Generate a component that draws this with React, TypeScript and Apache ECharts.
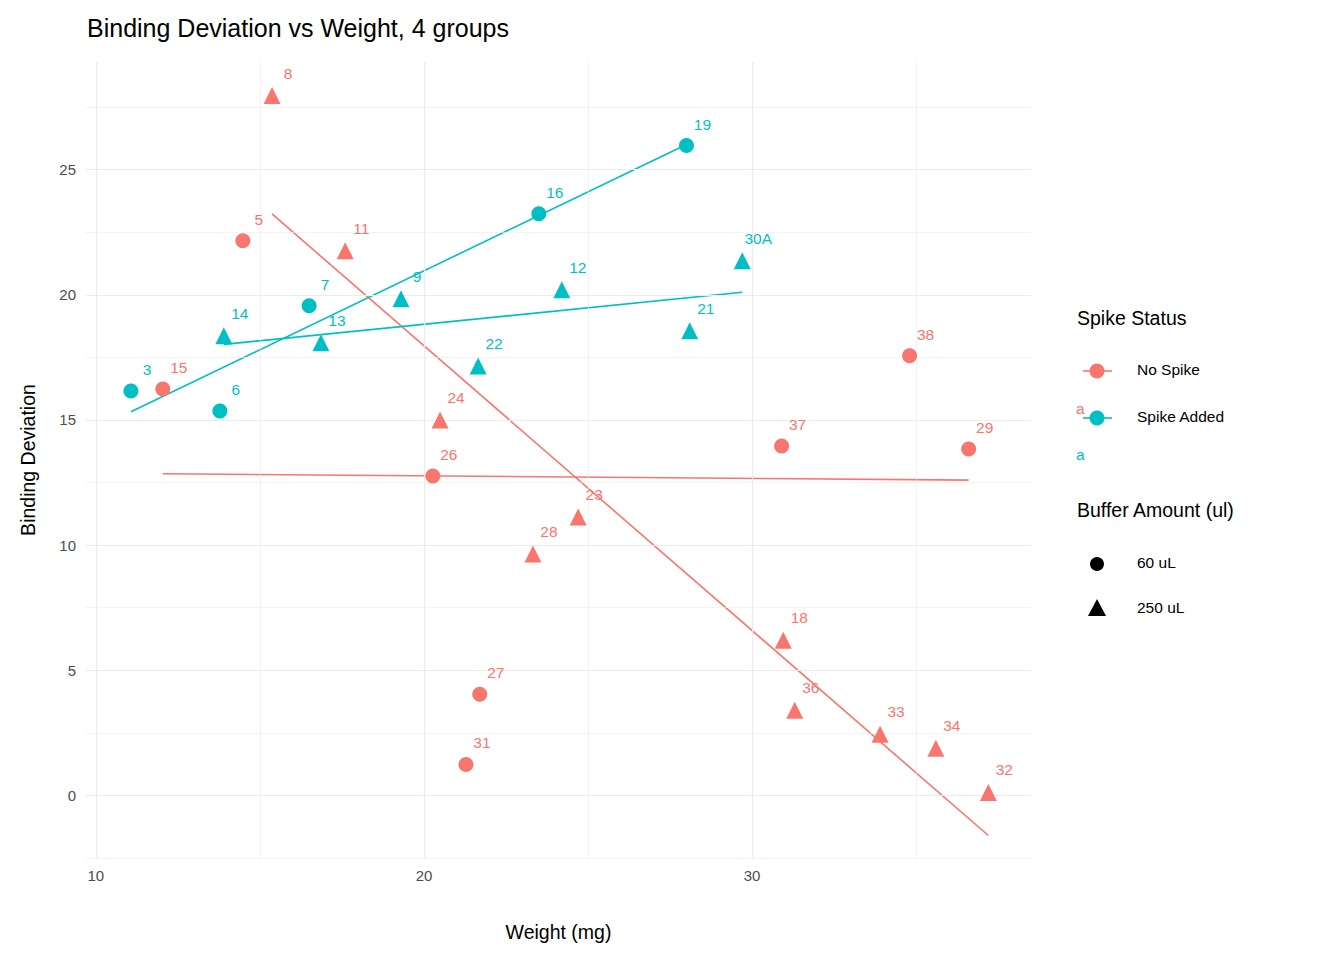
import React, { useEffect, useRef } from "react";
import * as echarts from "echarts";

const RED = "#F8766D";
const TEAL = "#00BFC4";

const noSpike60Names = ["15", "5", "26", "27", "31", "37", "38", "29"];
const noSpike60X = [12.04, 14.48, 20.27, 21.7, 21.28, 30.9, 34.8, 36.6];
const noSpike60Y = [16.24, 22.16, 12.76, 4.04, 1.24, 13.96, 17.56, 13.84];

const noSpike250Names = ["8", "11", "24", "28", "23", "18", "36", "33", "34", "32"];
const noSpike250X = [15.37, 17.6, 20.49, 23.32, 24.7, 30.95, 31.3, 33.9, 35.6, 37.2];
const noSpike250Y = [27.96, 21.76, 15.0, 9.64, 11.12, 6.2, 3.4, 2.44, 1.88, 0.12];

const spike60Names = ["3", "6", "7", "16", "19"];
const spike60X = [11.07, 13.78, 16.5, 23.5, 28.0];
const spike60Y = [16.16, 15.36, 19.56, 23.24, 25.96];

const spike250Names = ["14", "13", "9", "22", "12", "21", "30A"];
const spike250X = [13.9, 16.86, 19.3, 21.65, 24.2, 28.1, 29.7];
const spike250Y = [18.36, 18.08, 19.84, 17.16, 20.2, 18.56, 21.36];

const xTicks = [10, 20, 30];
const xMinor = [15, 25, 35];
const yTicks = [0, 5, 10, 15, 20, 25];
const yMinor = [-2.5, 2.5, 7.5, 12.5, 17.5, 22.5, 27.5];

function fit(xs: number[], ys: number[]) {
  const n = xs.length;
  const mx = xs.reduce((a, b) => a + b, 0) / n;
  const my = ys.reduce((a, b) => a + b, 0) / n;
  let sxy = 0, sxx = 0;
  for (let i = 0; i < n; i++) { sxy += (xs[i] - mx) * (ys[i] - my); sxx += (xs[i] - mx) ** 2; }
  const b = sxy / sxx, a = my - b * mx;
  const x0 = Math.min(...xs), x1 = Math.max(...xs);
  return [[x0, a + b * x0], [x1, a + b * x1]];
}

const FONT = "Liberation Sans, Arial, sans-serif";

function scatter(names: string[], xs: number[], ys: number[], color: string, symbol: string, size: number) {
  return {
    type: "scatter", symbol, symbolSize: size, silent: true,
    itemStyle: { color, opacity: 1 },
    label: { show: true, position: "top", distance: 6, offset: [16, 0], color, fontSize: 15.5, fontFamily: FONT, formatter: (p: any) => p.name },
    data: names.map((n, i) => ({ name: n, value: [xs[i], ys[i]] })),
    z: 5,
  };
}
function line(xs: number[], ys: number[], color: string) {
  return { type: "line", showSymbol: false, silent: true, lineStyle: { color, width: 1.6 }, data: fit(xs, ys), z: 4 };
}

export default function App() {
  const ref = useRef<HTMLDivElement>(null);
  useEffect(() => {
    const chart = echarts.init(ref.current!, undefined, { renderer: "svg" });
    const grid = (v: number[], key: string, w: number) => v.map((x) => ({ [key]: x, lineStyle: { color: "#EBEBEB", width: w, type: "solid" } }));
    chart.setOption({
      animation: false,
      backgroundColor: "#fff",
      textStyle: { fontFamily: FONT },
      grid: { left: 86, right: 313, top: 62, bottom: 102 },
      xAxis: {
        type: "value", min: 9.7, max: 38.5,
        splitLine: { show: false }, axisLine: { show: false }, axisTick: { show: false },
        axisLabel: { customValues: xTicks, color: "#4D4D4D", fontSize: 15, margin: 10 },
        name: "Weight (mg)", nameLocation: "middle", nameGap: 64, nameTextStyle: { color: "#000", fontSize: 19.5 },
      },
      yAxis: {
        type: "value", min: -2.5, max: 29.3,
        splitLine: { show: false }, axisLine: { show: false }, axisTick: { show: false },
        axisLabel: { customValues: yTicks, color: "#4D4D4D", fontSize: 15, margin: 10 },
        name: "Binding Deviation", nameLocation: "middle", nameGap: 48, nameTextStyle: { color: "#000", fontSize: 19.5 },
      },
      title: { text: "Binding Deviation vs Weight, 4 groups", left: 82, top: 10, textStyle: { fontSize: 25, fontWeight: "normal", color: "#000" } },
      series: [
        {
          type: "line", data: [], silent: true,
          markLine: {
            silent: true, symbol: "none", label: { show: false },
            data: [...grid(xMinor, "xAxis", 0.6), ...grid(yMinor, "yAxis", 0.6), ...grid(xTicks, "xAxis", 1.2), ...grid(yTicks, "yAxis", 1.2)],
          },
        },
        line(noSpike60X, noSpike60Y, RED),
        line(noSpike250X, noSpike250Y, RED),
        line(spike60X, spike60Y, TEAL),
        line(spike250X, spike250Y, TEAL),
        scatter(noSpike60Names, noSpike60X, noSpike60Y, RED, "circle", 15),
        scatter(noSpike250Names, noSpike250X, noSpike250Y, RED, "triangle", 17),
        scatter(spike60Names, spike60X, spike60Y, TEAL, "circle", 15),
        scatter(spike250Names, spike250X, spike250Y, TEAL, "triangle", 17),
      ],
      graphic: [
        { type: "text", left: 1077, top: 308, style: { text: "Spike Status", fontSize: 19.5, fill: "#000", fontFamily: FONT } },
        { type: "line", shape: { x1: 1083, y1: 371, x2: 1112, y2: 371 }, style: { stroke: RED, lineWidth: 1.6 } },
        { type: "circle", shape: { cx: 1097, cy: 371, r: 7.5 }, style: { fill: RED } },
        { type: "text", left: 1137, top: 361, style: { text: "No Spike", fontSize: 15.5, fill: "#000", fontFamily: FONT } },
        { type: "text", left: 1076, top: 400, style: { text: "a", fontSize: 15.5, fill: RED, fontFamily: FONT } },
        { type: "line", shape: { x1: 1083, y1: 418, x2: 1112, y2: 418 }, style: { stroke: TEAL, lineWidth: 1.6 } },
        { type: "circle", shape: { cx: 1097, cy: 418, r: 7.5 }, style: { fill: TEAL } },
        { type: "text", left: 1137, top: 408, style: { text: "Spike Added", fontSize: 15.5, fill: "#000", fontFamily: FONT } },
        { type: "text", left: 1076, top: 446, style: { text: "a", fontSize: 15.5, fill: TEAL, fontFamily: FONT } },
        { type: "text", left: 1077, top: 500, style: { text: "Buffer Amount (ul)", fontSize: 19.5, fill: "#000", fontFamily: FONT } },
        { type: "circle", shape: { cx: 1097, cy: 564, r: 7 }, style: { fill: "#000" } },
        { type: "text", left: 1137, top: 554, style: { text: "60 uL", fontSize: 15.5, fill: "#000", fontFamily: FONT } },
        { type: "polygon", shape: { points: [[1097, 599], [1106, 616], [1088, 616]] }, style: { fill: "#000" } },
        { type: "text", left: 1137, top: 599, style: { text: "250 uL", fontSize: 15.5, fill: "#000", fontFamily: FONT } },
      ],
    });
    return () => chart.dispose();
  }, []);
  return <div ref={ref} style={{ position: "absolute", left: 0, top: 0, width: 1344, height: 960 }} />;
}
